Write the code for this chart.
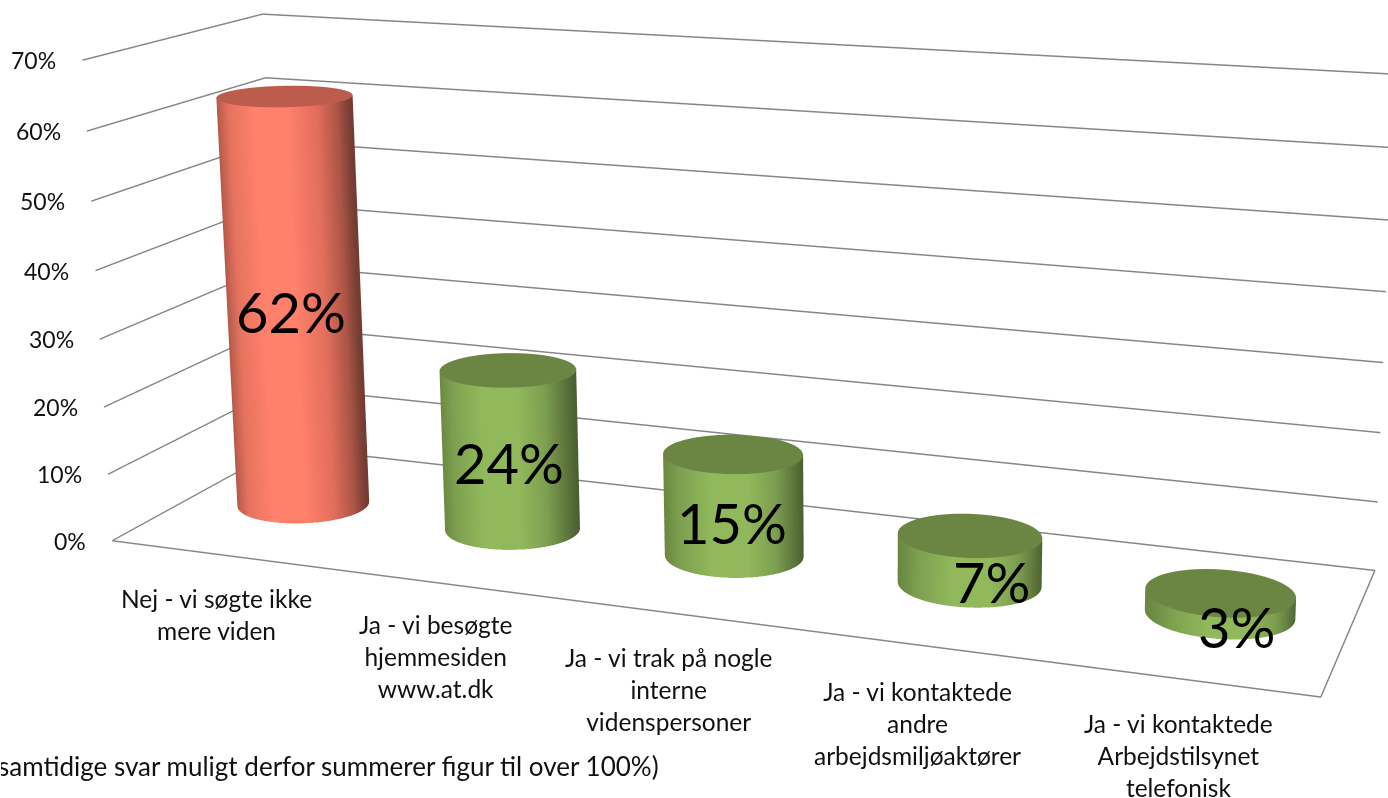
import numpy as np, plotly.graph_objects as go

categories = ["Nej - vi søgte ikke<br>mere viden",
              "Ja - vi besøgte<br>hjemmesiden<br>www.at.dk",
              "Ja - vi trak på nogle<br>interne<br>videnspersoner",
              "Ja - vi kontaktede<br>andre<br>arbejdsmiljøaktører",
              "Ja - vi kontaktede<br>Arbejdstilsynet<br>telefonisk"]
values = [0.62, 0.24, 0.15, 0.07, 0.03]
value_labels = ["62%", "24%", "15%", "7%", "3%"]
z_ticks = [0, 0.1, 0.2, 0.3, 0.4, 0.5, 0.6, 0.7]
z_ticktext = ["0%", "10%", "20%", "30%", "40%", "50%", "60%", "70%"]
caption = "samtidige svar muligt derfor summerer figur til over 100%)"

RED_SCALE = [[0, "rgb(170,85,70)"], [.15, "rgb(230,115,95)"], [.35, "rgb(255,128,107)"], [.6, "rgb(255,128,107)"],
             [.8, "rgb(225,110,92)"], [.93, "rgb(170,85,70)"], [1, "rgb(115,60,50)"]]
GREEN_SCALE = [[0, "rgb(105,135,65)"], [.12, "rgb(125,160,80)"], [.35, "rgb(145,185,92)"], [.6, "rgb(145,185,92)"],
               [.8, "rgb(125,158,80)"], [.92, "rgb(95,120,60)"], [1, "rgb(75,95,50)"]]
RED_TOP, GREEN_TOP = "rgb(188,92,76)", "rgb(107,133,67)"
FONT = "Lato, Carlito, Calibri, sans-serif"
W, H, TOP, LEFT = 1732, 2160, 920, 1
VIEW_H = 798
LABEL_SHIFT = [(0, -60), (0, -74), (0, -77), (1, -79), (-3, -76)]
VALUE_SHIFT = [(-2, -8), (0, -13), (0, -18), (23, -22), (18, -23)]

eye = np.array([0.7573, -1.8732, 0.5392])
fwd = np.array([-0.3175, 0.9269, -0.2001])
up = np.array([-0.0641, 0.1896, 0.9798])
center = eye + 2.0 * fwd
right = np.cross(fwd, up)
ASPECT = dict(x=1, y=0.26659, z=0.40323)
XR, YR, ZR = 5.0, 1.0, 0.7
rx = 0.287           # radius in x units
ry = 0.88 * rx * (ASPECT["x"] / XR) / ASPECT["y"]
NOLIGHT = dict(ambient=1, diffuse=0, specular=0, fresnel=0, roughness=1)

t = np.linspace(0, 2 * np.pi, 97)
fig = go.Figure()
for i, v in enumerate(values):
    cx, cy = i + 0.505, 0.5
    scale, top = (RED_SCALE, RED_TOP) if i == 0 else (GREEN_SCALE, GREEN_TOP)
    shade = (np.cos(t) * right[0] + np.sin(t) * right[1]) / np.hypot(right[0], right[1])
    X = np.array([cx + rx * np.cos(t)] * 2)
    Y = np.array([cy + ry * np.sin(t)] * 2)
    Z = np.array([np.zeros_like(t), np.full_like(t, v)])
    fig.add_trace(go.Surface(x=X, y=Y, z=Z, surfacecolor=np.array([shade, shade]), colorscale=scale,
                             cmin=-1, cmax=1, showscale=False, hoverinfo="skip", lighting=NOLIGHT))
    X = np.array([np.full_like(t, cx), cx + rx * np.cos(t)])
    Y = np.array([np.full_like(t, cy), cy + ry * np.sin(t)])
    Z = np.full_like(X, v)
    fig.add_trace(go.Surface(x=X, y=Y, z=Z, surfacecolor=np.zeros_like(X), colorscale=[[0, top], [1, top]],
                             showscale=False, hoverinfo="skip", lighting=NOLIGHT))

ann = []
for z, l in zip(z_ticks, z_ticktext):
    ann.append(dict(x=0, y=0, z=z, text=l, showarrow=False, xshift=-24, yshift=0, xanchor="right", yanchor="middle",
                    font=dict(family=FONT, size=23, color="#111111")))
for i, (c, (dx, dy)) in enumerate(zip(categories, LABEL_SHIFT)):
    ann.append(dict(x=i + 0.5, y=0, z=0, text=c, showarrow=False, xshift=dx, yshift=dy, xanchor="center", yanchor="middle",
                    font=dict(family=FONT, size=24.5, color="#111111")))
for i, (v, l, (dx, dy)) in enumerate(zip(values, value_labels, VALUE_SHIFT)):
    ann.append(dict(x=i + 0.5, y=0.5, z=v / 2, text=l, showarrow=False, xshift=dx, yshift=dy, xanchor="center", yanchor="middle",
                    font=dict(family=FONT, size=56, color="#000000")))

GRID = "rgb(134,134,134)"
fig.update_layout(
    width=W, height=H, margin=dict(l=0, r=0, t=0, b=0), paper_bgcolor="white", showlegend=False,
    scene=dict(
        domain=dict(x=[0, 1], y=[0, 1]),
        aspectmode="manual", aspectratio=ASPECT,
        camera=dict(eye=dict(x=eye[0], y=eye[1], z=eye[2]),
                    center=dict(x=center[0], y=center[1], z=center[2]),
                    up=dict(x=up[0], y=up[1], z=up[2])),
        xaxis=dict(range=[0, XR], showgrid=False, zeroline=False, showbackground=False, showline=True, linecolor=GRID, linewidth=3,
                   showticklabels=False, ticks="", title=dict(text="")),
        yaxis=dict(range=[0, YR], showgrid=False, zeroline=False, showbackground=False, showline=True, linecolor=GRID, linewidth=3,
                   showticklabels=False, ticks="", title=dict(text="")),
        zaxis=dict(range=[0, ZR], showgrid=True, gridcolor=GRID, gridwidth=3, zeroline=False, showbackground=False, showline=False,
                   tickvals=z_ticks, showticklabels=False, ticks="", title=dict(text="")),
        annotations=ann,
    ),
    annotations=[dict(xref="paper", yref="paper", x=660 / W, y=1 - (TOP + 766) / H, text=caption, showarrow=False,
                      xanchor="right", yanchor="middle", font=dict(family=FONT, size=26, color="#111111"))],
)
post = ("var g=document.getElementsByClassName('plotly-graph-div')[0];g.style.position='absolute';g.style.left='%dpx';g.style.top='-%dpx';"
        "document.body.style.margin='0';document.body.style.height='%dpx';document.body.style.overflow='hidden';"
        "document.documentElement.style.overflow='hidden';" % (LEFT, TOP, VIEW_H))
fig.write_html("out.html", post_script=post, default_width="%dpx" % W, default_height="%dpx" % H)
